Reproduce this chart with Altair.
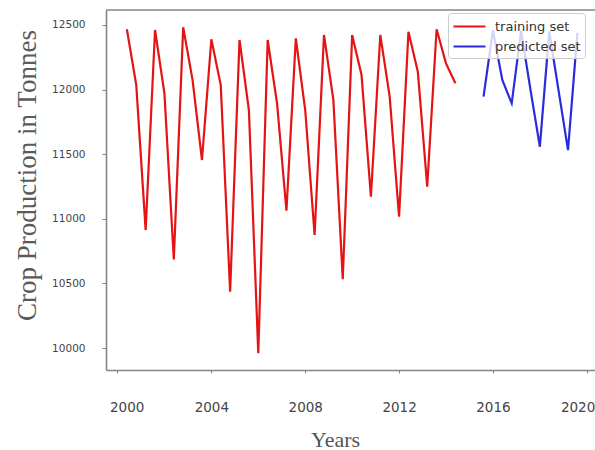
import altair as alt
import pandas as pd

# Observed production (training set) and model forecast (predicted set)
TRAIN_YEARS = [
    2000.4, 2000.8, 2001.2, 2001.6, 2002.0, 2002.4, 2002.8, 2003.2, 2003.6,
    2004.0, 2004.4, 2004.8, 2005.2, 2005.6, 2006.0, 2006.4, 2006.8, 2007.2,
    2007.6, 2008.0, 2008.4, 2008.8, 2009.2, 2009.6, 2010.0, 2010.4, 2010.8,
    2011.2, 2011.6, 2012.0, 2012.4, 2012.8, 2013.2, 2013.6, 2014.0, 2014.4,
]
TRAIN_TONNES = [
    12467, 12035, 10913, 12461, 11971, 10686, 12482, 12074, 11455,
    12389, 12035, 10436, 12384, 11842, 9959, 12384, 11894, 11063,
    12397, 11842, 10875, 12423, 11920, 10532, 12423, 12113, 11171,
    12423, 11945, 11016, 12448, 12139, 11249, 12467, 12203, 12049,
]
PRED_YEARS = [2015.6, 2016.0, 2016.4, 2016.8, 2017.2, 2017.6, 2018.0, 2018.4, 2018.8, 2019.2, 2019.6]
PRED_TONNES = [11945, 12460, 12074, 11894, 12455, 12000, 11558, 12450, 11990, 11532, 12440]

SERIES = ["training set", "predicted set"]
SERIES_COLORS = ["#e41414", "#2b2bdc"]
YEAR_TICKS = [2000, 2004, 2008, 2012, 2016, 2020]
TONNE_TICKS = [10000, 10500, 11000, 11500, 12000, 12500]

rows = []
for yr, t in zip(TRAIN_YEARS, TRAIN_TONNES):
    rows.append({"series": SERIES[0], "year": yr, "tonnes": t})
for yr, t in zip(PRED_YEARS, PRED_TONNES):
    rows.append({"series": SERIES[1], "year": yr, "tonnes": t})
df = pd.DataFrame(rows)

W, H = 489, 360
AXIS_GRAY = "#858585"

lines = alt.Chart(df).mark_line(strokeWidth=2.2, clip=True).encode(
    x=alt.X(
        "year:Q",
        scale=alt.Scale(domain=[1999.51, 2020.35], nice=False, zero=False),
        axis=alt.Axis(
            values=YEAR_TICKS, format="d", grid=False,
            title="Years", titleFont="Liberation Serif", titleFontSize=22,
            titleFontWeight="normal", titleColor="#555555",
            titleX=229, titleY=76, titleAlign="center", titleBaseline="alphabetic",
            labelFont="DejaVu Sans", labelFontSize=13.5, labelColor="#444444",
            labelPadding=27, labelFlush=15, labelFlushOffset=8,
            tickSize=3, tickColor=AXIS_GRAY, domainColor=AXIS_GRAY, domainWidth=1.6,
        ),
    ),
    y=alt.Y(
        "tonnes:Q",
        scale=alt.Scale(domain=[9830, 12616], nice=False, zero=False),
        axis=alt.Axis(
            values=TONNE_TICKS, format="d", grid=False,
            title="Crop Production in Tonnes", titleFont="Liberation Serif",
            titleFontSize=27, titleFontWeight="normal", titleColor="#5a5a5a",
            titleX=-79, titleY=165, titleAngle=270, titleAlign="center",
            titleBaseline="middle",
            labelFont="DejaVu Sans", labelFontSize=10.5, labelColor="#444444",
            labelPadding=17, tickSize=4, tickColor=AXIS_GRAY,
            domainColor=AXIS_GRAY, domainWidth=1.6,
        ),
    ),
    color=alt.Color(
        "series:N",
        scale=alt.Scale(domain=SERIES, range=SERIES_COLORS),
        legend=alt.Legend(
            title=None, orient="none", legendX=342, legendY=3,
            # long horizontal stroke on a compact row height
            symbolType="M-1,0H3", symbolStrokeWidth=2.2, symbolSize=256,
            symbolFillColor="transparent",
            labelFont="DejaVu Sans", labelFontSize=13, labelColor="#333333",
            labelOffset=24, rowPadding=3, padding=4, cornerRadius=3,
            fillColor="rgba(255,255,255,0.8)", strokeColor="#cccccc",
        ),
    ),
    order="year:Q",
)

# top edge of the plot frame
frame_top = alt.Chart(pd.DataFrame({"edge": [0]})).mark_rule(
    color=AXIS_GRAY, strokeWidth=1.6
).encode(y=alt.value(0), x=alt.value(0), x2=alt.value(W))

chart = (
    alt.layer(lines, frame_top)
    .properties(
        width=W, height=H,
        padding={"left": 106, "top": 10, "right": 0, "bottom": 80},
        autosize=alt.AutoSizeParams(type="none"),
        background="white",
    )
    .configure_view(stroke=None)
)

chart.save("out.html", embed_options={"renderer": "svg", "actions": False})
